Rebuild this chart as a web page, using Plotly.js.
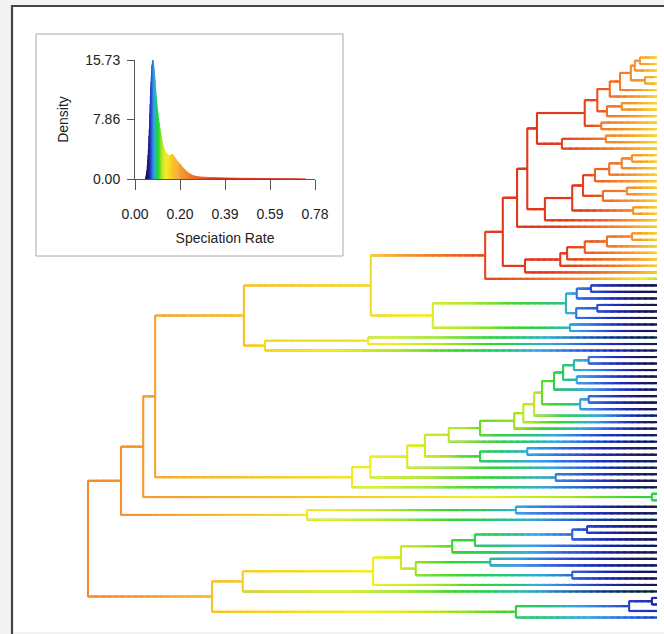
<!DOCTYPE html>
<html><head><meta charset="utf-8">
<script src="https://cdn.plot.ly/plotly-3.0.1.min.js"></script>
<style>html,body{margin:0;padding:0;background:#fff}</style>
</head><body><div id="chart" style="width:664px;height:634px"></div>
<script>
// ================= DATA =================
// Tree topology (Newick). Internal node label = "nodeTime/speciationRate", tip label = tip speciation rate.
const tipTime = 100;
const redA = "(((((0.14,0.14)97.0/0.2,0.14)96.1/0.21,(0.14,0.14)97.9/0.2)95.4/0.22,0.142)93.5/0.24,0.142)91.7/0.26";
const redB = "((0.142,0.142)93.8/0.22,0.145)91.2/0.25";
const redC = "(0.145,0.145)90.2/0.24";
const redD = "((0.145,0.145)91.0/0.23,0.145)83.3/0.32";
const redE = "((((0.145,0.145)95.6/0.21,0.145)93.8/0.23,0.145)91.6/0.25,0.145)89.1/0.28";
const redF = "((0.147,0.147)94.7/0.22,0.147)90.5/0.26";
const redG = "(0.147,0.147)95.8/0.21";
const redH = "((((((0.145,0.145)95.6/0.21,0.145)91.2/0.25,0.145)87.3/0.29,0.147)84.2/0.33,0.147)83.0/0.35,0.15)76.8/0.38";
const red537 = `(((${redA},${redB})89.5/0.30,${redC})87.3/0.33,${redD})78.9/0.38`;
const red545 = `(((${redE},${redF})87.0/0.33,${redG})85.1/0.36,0.147)80.3/0.38`;
const redClade = `((((${red537},${red545})77.2/0.40,0.147)75.4/0.40,${redH})72.9/0.38,0.115)69.8/0.32`;
const blueClade = "((((0.048,0.048)88.4/0.072,0.05)85.9/0.078,((0.048,0.048)89.5/0.072,0.05)85.8/0.078)84.0/0.088,(0.05,0.05)84.7/0.085)60.6/0.13";
const clade265 = "((0.05,0.052)49.2/0.14,0.055)31.1/0.15";
const clade244 = `((${redClade},${blueClade})49.7/0.15,${clade265})27.4/0.17`;
const green542 = "(((((0.048,0.048)88.0/0.078,0.05)85.4/0.09,(0.048,0.048)85.9/0.085)83.5/0.095,0.05)81.9/0.1,((0.048,0.048)88.0/0.078,0.05)86.5/0.085)79.8/0.11";
const greenClade = `(((((((((${green542},0.05)78.4/0.12,0.05)76.5/0.12,0.05)74.9/0.115,0.05)68.9/0.11,0.05)63.4/0.12,((0.05,0.05)77.2/0.085,0.05)68.9/0.1)59.2/0.125,0.05)56.1/0.13,(0.05,0.05)82.2/0.08)49.6/0.135,0.05)46.4/0.14`;
const clade143 = `((${clade244},${greenClade})11.8/0.19,(0.1,0.1)99.1/0.1)9.7/0.2`;
const clade307 = "((0.05,0.05)75.2/0.085,0.052)38.5/0.14";
const clade121 = `(${clade143},${clade307})5.8/0.21`;
const bottom452 = "((((0.05,0.05)87.7/0.07,0.05)85.1/0.075,0.05)68.0/0.1,0.05)64.0/0.105";
const bottom416 = "((0.05,0.05)70.7/0.09,(0.05,0.05)85.1/0.075)57.6/0.115";
const clade243 = `(((${bottom452},${bottom416})55.0/0.125,0.05)50.1/0.135,0.05)27.2/0.16`;
const clade516 = "(((0.065,0.065)99.1/0.065,0.065)95.1/0.07,0.068)75.2/0.1";
const clade212 = `(${clade243},${clade516})21.8/0.17`;
const treeNewick = `(${clade121},${clade212})0/0.22`;

// Inset: density of speciation rates
const densityRate  = [0.046,0.052,0.058,0.063,0.068,0.073,0.077,0.081,0.086,0.091,0.096,0.101,0.108,0.115,0.123,0.131,0.140,0.149,0.156,0.161,0.168,0.178,0.190,0.205,0.220,0.238,0.255,0.280,0.320,0.380,0.450,0.520,0.600,0.680,0.740];
const densityValue = [0,1.2,3.9,7.5,12.2,14.9,15.73,15.0,13.6,11.3,9.6,8.3,6.8,5.5,4.3,3.7,3.3,3.0,3.2,3.3,3.05,2.65,2.15,1.6,1.1,0.65,0.42,0.28,0.2,0.15,0.11,0.08,0.05,0.03,0.0];
const rateTickVals = [0,0.195,0.39,0.585,0.78];
const rateTickText = ["0.00","0.20","0.39","0.59","0.78"];
const densTickVals = [0,7.865,15.73];
const densTickText = ["0.00","7.86","15.73"];

// Rate -> colour palette
const rateStops  = [0.045,0.058,0.066,0.075,0.085,0.095,0.105,0.118,0.135,0.16,0.2,0.26,0.34,0.78];
const colorStops = ["#14142a","#1a1a6a","#1e2ab8","#2f5fe0","#33a8e6","#22cc66","#3ad62a","#b4e61e","#f2ee22","#f8cc26","#f79a2c","#ef6a26","#e23a1e","#cc2218"];

// ================= HELPERS =================
function hex2rgb(h){return [parseInt(h.slice(1,3),16),parseInt(h.slice(3,5),16),parseInt(h.slice(5,7),16)];}
const stopRGB = colorStops.map(hex2rgb);
function rateColor(r){
  if(r<=rateStops[0]) return colorStops[0];
  for(let i=0;i<rateStops.length-1;i++){
    if(r<=rateStops[i+1]){
      const f=(r-rateStops[i])/(rateStops[i+1]-rateStops[i]);
      const a=stopRGB[i], b=stopRGB[i+1];
      return 'rgb('+a.map((v,k)=>Math.round(v+(b[k]-v)*f)).join(',')+')';
    }
  }
  return colorStops[colorStops.length-1];
}
function parseNewick(s){
  let i=0;
  function node(){
    const n={children:[]};
    if(s[i]==='('){
      i++;
      n.children.push(node());
      while(s[i]===','){i++; n.children.push(node());}
      i++;
    }
    let lab='';
    while(i<s.length && s[i]!==',' && s[i]!==')') lab+=s[i++];
    if(n.children.length){const p=lab.split('/'); n.time=+p[0]; n.rate=+p[1];}
    else {n.time=tipTime; n.rate=+lab;}
    return n;
  }
  return node();
}
const root = parseNewick(treeNewick);
let tipCount=0;
(function lay(n){
  if(!n.children.length){n.y=tipCount++; return;}
  n.children.forEach(lay);
  n.y=(n.children[0].y+n.children[n.children.length-1].y)/2;
})(root);

// Under-layer: each branch drawn whole in its mean colour (hides joins), then gradient pieces on top
const baseBins={}, bins={};
function binKey(r){return Math.round(Math.log(r)*70);}
function addTo(store,x0,x1,y0,y1,r){
  const key=binKey(r);
  if(!store[key]) store[key]={x:[],y:[],c:rateColor(Math.exp(key/70))};
  store[key].x.push(x0,x1,null); store[key].y.push(y0,y1,null);
}
(function walk(n){
  n.children.forEach(c=>{
    const len=c.time-n.time;
    addTo(baseBins,n.time,c.time,c.y,c.y,(n.rate+c.rate)/2);
    const k=Math.max(1,Math.ceil(len/1.2));
    for(let j=0;j<k;j++){
      const a=n.time+len*j/k, b=n.time+len*(j+1)/k;
      const r=n.rate+(c.rate-n.rate)*((j+0.5)/k);
      addTo(bins,a,Math.min(b+0.6,c.time),c.y,c.y,r);
    }
    walk(c);
  });
  if(n.children.length) addTo(bins,n.time,n.time,n.children[0].y-0.08,n.children[n.children.length-1].y+0.08,n.rate);
})(root);

const traces=[];
[baseBins,bins].forEach(store=>{
  Object.keys(store).map(Number).sort((a,b)=>a-b).forEach(k=>{
    const b=store[k];
    traces.push({type:'scatter',mode:'lines',x:b.x,y:b.y,xaxis:'x',yaxis:'y',
      line:{color:b.c,width:2.1,simplify:false},hoverinfo:'skip',showlegend:false,connectgaps:false});
  });
});

// density fill, coloured by rate
for(let j=0;j<densityRate.length-1;j++){
  const m=4;
  for(let s=0;s<m;s++){
    const xa=densityRate[j]+(densityRate[j+1]-densityRate[j])*s/m;
    const xb=densityRate[j]+(densityRate[j+1]-densityRate[j])*(s+1)/m;
    const ya=densityValue[j]+(densityValue[j+1]-densityValue[j])*s/m;
    const yb=densityValue[j]+(densityValue[j+1]-densityValue[j])*(s+1)/m;
    const col=rateColor((xa+xb)/2);
    traces.push({type:'scatter',mode:'lines',x:[xa,xa,xb,xb,xa],y:[0,ya,yb,0,0],xaxis:'x2',yaxis:'y2',
      fill:'toself',fillcolor:col,line:{color:col,width:0.7},hoverinfo:'skip',showlegend:false});
  }
}

// ================= LAYOUT =================
const W=664,H=634;
const rootPx=88, tipPx=657, topTipPx=57.5, botTipPx=617.5;
const pxPerT=(tipPx-rootPx)/tipTime;
const pxPerTip=(botTipPx-topTipPx)/(tipCount-1);
const px=x=>x/W, py=y=>1-y/H;
const axisCol='#555';
const layout={
  width:W,height:H,margin:{l:0,r:0,t:0,b:0},
  paper_bgcolor:'#f3f3f3',plot_bgcolor:'rgba(0,0,0,0)',showlegend:false,
  font:{family:'"Liberation Sans", Arial, sans-serif',size:14,color:'#222'},
  xaxis:{domain:[0,1],range:[-rootPx/pxPerT,(W-rootPx)/pxPerT],visible:false,fixedrange:true},
  yaxis:{domain:[0,1],range:[(H-topTipPx)/pxPerTip,-topTipPx/pxPerTip],visible:false,fixedrange:true},
  xaxis2:{domain:[px(135),px(315)],anchor:'y2',range:[0,0.78],showline:true,linecolor:axisCol,linewidth:1,
    ticks:'outside',ticklen:10,tickcolor:axisCol,tickvals:rateTickVals,ticktext:rateTickText,
    tickfont:{size:14},showgrid:false,zeroline:false,ticklabelstandoff:12,
    title:{text:'Speciation Rate',standoff:12,font:{size:14}}},
  yaxis2:{domain:[py(179),py(60)],anchor:'x2',range:[0,15.73],showline:true,linecolor:axisCol,linewidth:1,
    ticks:'outside',ticklen:7,tickcolor:axisCol,tickvals:densTickVals,ticktext:densTickText,
    tickfont:{size:14},showgrid:false,zeroline:false,ticklabelstandoff:4,
    title:{text:'Density',standoff:13,font:{size:14}}},
  shapes:[
    {type:'rect',xref:'paper',yref:'paper',x0:px(12),x1:1.05,y0:py(6),y1:py(632),fillcolor:'#ffffff',line:{width:0},layer:'below'},
    {type:'line',xref:'paper',yref:'paper',x0:px(12),x1:px(12),y0:py(5),y1:py(634),line:{color:'#444',width:2.2},layer:'below'},
    {type:'line',xref:'paper',yref:'paper',x0:px(11),x1:1.05,y0:py(6),y1:py(6),line:{color:'#444',width:2.2},layer:'below'},
    {type:'rect',xref:'paper',yref:'paper',x0:px(36),x1:px(343),y0:py(34),y1:py(256),fillcolor:'rgba(0,0,0,0)',line:{color:'#a8a8a8',width:1},layer:'below'}
  ]
};
Plotly.newPlot('chart',traces,layout,{staticPlot:true,displayModeBar:false});
</script></body></html>
